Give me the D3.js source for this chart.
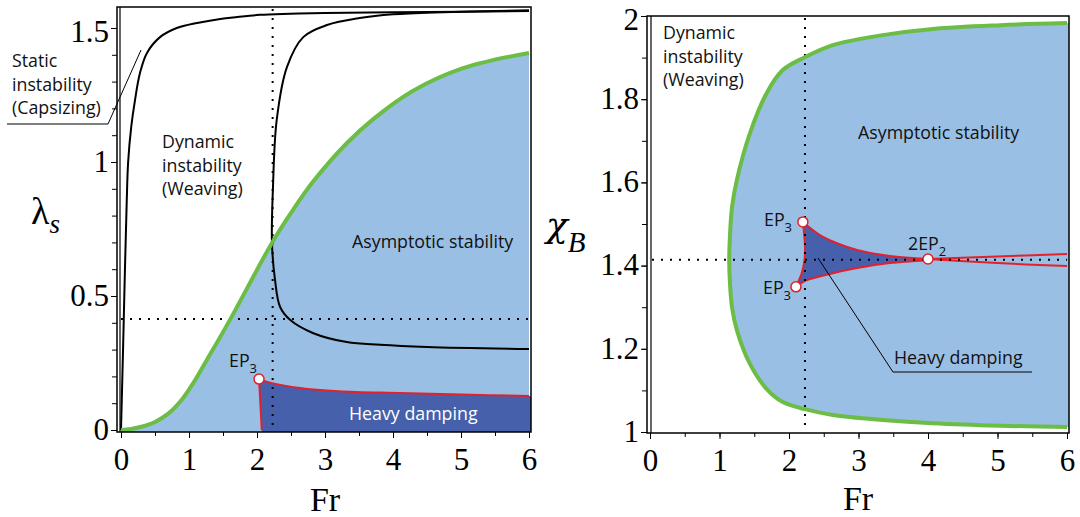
<!DOCTYPE html>
<html>
<head>
<meta charset="utf-8">
<script src="https://cdn.jsdelivr.net/npm/d3@7"></script>
<style>
  body { margin: 0; background: #fff; }
  .tick text { font-family: "Liberation Serif", "Times New Roman", serif; fill: #000; }
  .lbl { font-family: "Open Sans", "Noto Sans", sans-serif; font-size: 17.8px; fill: #111; }
</style>
</head>
<body>
<div id="chart"></div>
<script>
// ---- left panel data (Fr, lambda_s) ----
var capsizeCurve = [[0,0],[0.03,0.3],[0.06,0.62],[0.085,0.86],[0.105,1.0],[0.15,1.13],[0.206,1.231],[0.279,1.332],[0.382,1.407],[0.574,1.466],[0.82,1.5],[1.12,1.519],[1.46,1.534],[1.71,1.541],[2.04,1.549],[2.49,1.553],[3,1.556],[4,1.559],[5,1.561],[6,1.563]];
var weavingCurve = [[6,1.566],[4.74,1.559],[4.0,1.551],[3.51,1.537],[3.03,1.511],[2.68,1.466],[2.44,1.354],[2.29,1.157],[2.235,0.907],[2.22,0.698],[2.265,0.56],[2.34,0.459],[2.49,0.41],[2.82,0.362],[3.32,0.328],[3.81,0.318],[4.5,0.31],[6,0.302]];
var stabilityLeft = [[0,0],[0.15,0.004],[0.3,0.012],[0.5,0.03],[0.7,0.062],[0.9,0.115],[1.05,0.17],[1.16,0.216],[1.26,0.26],[1.6,0.41],[2.22,0.698],[2.5,0.81],[2.82,0.925],[3.32,1.07],[3.71,1.16],[4.29,1.265],[5.03,1.35],[6,1.407]];
var dampTopLeft = [[2.03,0.19],[2.22,0.175],[2.63,0.157],[3.2,0.145],[4.1,0.138],[5,0.132],[6,0.127]];
var dampEdgeLeft = [[2.07,0],[2.03,0.19]];
var ep3Left = [[2.03,0.19]];
var dotsLeft = {fr: 2.23, lam: 0.414};

// ---- right panel data (Fr, chi_B) ----
var stabilityUpper = [[1.14,1.414],[1.15,1.47],[1.18,1.54],[1.25,1.606],[1.44,1.719],[1.68,1.815],[1.91,1.87],[2.23,1.901],[2.63,1.93],[3.35,1.954],[4.07,1.969],[5.04,1.978],[6,1.983]];
var stabilityLower = [[1.14,1.414],[1.15,1.36],[1.18,1.3],[1.25,1.245],[1.44,1.163],[1.68,1.103],[1.91,1.072],[2.23,1.055],[2.63,1.041],[3.35,1.029],[4.07,1.021],[5.04,1.015],[6,1.012]];
var cuspUpper = [[2.2,1.505],[2.49,1.469],[2.98,1.4375],[3.45,1.423],[4.0,1.416]];
var cuspLower = [[2.1,1.349],[2.26,1.365],[2.59,1.38],[2.98,1.394],[3.45,1.406],[4.0,1.413]];
var cuspEdge = [[2.1,1.349],[2.18,1.38],[2.22,1.41],[2.23,1.445],[2.2,1.505]];
var tailUpper = [[4.0,1.416],[5,1.422],[6,1.428]];
var tailLower = [[4.0,1.416],[5,1.406],[6,1.399]];
var epPointsRight = [[2.2,1.505],[2.1,1.349],[4.0,1.416]];
var dotsRight = {fr: 2.23, chi: 1.414};

// ticks
var frTicks = [0,1,2,3,4,5,6];
var frMinor = d3.range(0, 6.01, 0.5);
var lamTicks = [0,0.5,1,1.5];
var lamMinor = d3.range(0, 1.51, 0.1);
var chiTicks = [1,1.2,1.4,1.6,1.8,2];
var chiMinor = d3.range(1, 2.01, 0.1);

var lightBlue = "#9abfe4", darkBlue = "#4660ac", green = "#6bbd45", red = "#e3202b";

var svg = d3.select("#chart").append("svg")
    .attr("width", 1080)
    .attr("height", 517);

// scales
var xL = d3.scaleLinear().domain([0, 6]).range([121, 529]);
var yL = d3.scaleLinear().domain([0, 1.5]).range([430, 28]);
var xR = d3.scaleLinear().domain([0, 6]).range([650, 1067]);
var yR = d3.scaleLinear().domain([1, 2]).range([432, 16]);

var defs = svg.append("defs");
defs.append("clipPath").attr("id", "clipL").append("rect")
    .attr("x", 119).attr("y", 7).attr("width", 412).attr("height", 425);
defs.append("clipPath").attr("id", "clipR").append("rect")
    .attr("x", 650).attr("y", 16).attr("width", 419).attr("height", 417);

function lineOf(xs, ys, curve) {
    return d3.line()
        .x(function(d) { return xs(d[0]); })
        .y(function(d) { return ys(d[1]); })
        .curve(curve || d3.curveCatmullRom.alpha(0.5));
}

// ================= LEFT PANEL =================
var gL = svg.append("g").attr("clip-path", "url(#clipL)");
var lineL = lineOf(xL, yL);

// asymptotic stability region (under green curve)
gL.append("path")
    .datum(stabilityLeft)
    .attr("fill", lightBlue)
    .attr("d", d3.area()
        .x(function(d) { return xL(d[0]); })
        .y0(yL(0) + 2)
        .y1(function(d) { return yL(d[1]); })
        .curve(d3.curveCatmullRom.alpha(0.5)));

// heavy damping region: left edge, red top curve, then down to the axis
var base = yL(0) + 2;
gL.append("path")
    .datum(dampTopLeft)
    .attr("fill", darkBlue)
    .attr("d", function(d) {
        return "M" + xL(dampEdgeLeft[0][0]) + "," + base +
            lineL(d).replace(/^M/, "L") +
            "L" + (xL(6) + 3) + "," + yL(d[d.length - 1][1]) +
            "L" + (xL(6) + 3) + "," + base + "Z";
    });

gL.append("path").datum(dampTopLeft)
    .attr("fill", "none").attr("stroke", red).attr("stroke-width", 2)
    .attr("d", lineL);
gL.append("path").datum(dampEdgeLeft)
    .attr("fill", "none").attr("stroke", red).attr("stroke-width", 2)
    .attr("d", lineOf(xL, yL, d3.curveLinear));

// dotted guides
gL.append("line")
    .attr("x1", xL(dotsLeft.fr)).attr("x2", xL(dotsLeft.fr))
    .attr("y1", 9).attr("y2", yL(0))
    .attr("stroke", "#000").attr("stroke-width", 2).attr("stroke-dasharray", "2,7");
gL.append("line")
    .attr("x1", xL(0)).attr("x2", xL(6))
    .attr("y1", yL(dotsLeft.lam)).attr("y2", yL(dotsLeft.lam))
    .attr("stroke", "#000").attr("stroke-width", 2).attr("stroke-dasharray", "2,7");

// black boundaries
gL.append("path").datum(capsizeCurve)
    .attr("fill", "none").attr("stroke", "#000").attr("stroke-width", 2)
    .attr("d", lineL);
gL.append("path").datum(weavingCurve)
    .attr("fill", "none").attr("stroke", "#000").attr("stroke-width", 2)
    .attr("d", lineL);

// green stability boundary
gL.append("path").datum(stabilityLeft)
    .attr("fill", "none").attr("stroke", green).attr("stroke-width", 4)
    .attr("d", lineL);

gL.selectAll("circle.ep").data(ep3Left).enter().append("circle")
    .attr("class", "ep")
    .attr("cx", function(d) { return xL(d[0]); })
    .attr("cy", function(d) { return yL(d[1]); })
    .attr("r", 5).attr("fill", "#fff").attr("stroke", red).attr("stroke-width", 1.5);

// frame + axes
svg.append("rect").attr("x", 117).attr("y", 7).attr("width", 414).attr("height", 425)
    .attr("fill", "none").attr("stroke", "#000").attr("stroke-width", 1.5);
svg.append("line").attr("x1", 120).attr("x2", 120).attr("y1", 7).attr("y2", 432)
    .attr("stroke", "#000").attr("stroke-width", 1.2);

function drawAxes(xs, ys, xMinor, xMajor, yMinor, yMajor, xAxisY, yAxisX) {
    svg.append("g").attr("transform", "translate(0," + xAxisY + ")")
        .call(d3.axisBottom(xs).tickValues(xMinor).tickSize(4).tickFormat(""))
        .call(function(g) { g.select(".domain").remove(); });
    svg.append("g").attr("transform", "translate(0," + xAxisY + ")")
        .call(d3.axisBottom(xs).tickValues(xMajor).tickSize(6).tickPadding(10).tickFormat(d3.format("~g")))
        .call(function(g) {
            g.select(".domain").remove();
            g.selectAll("text").style("font-size", "31px");
        });
    svg.append("g").attr("transform", "translate(" + yAxisX + ",0)")
        .call(d3.axisLeft(ys).tickValues(yMinor).tickSize(5).tickFormat(""))
        .call(function(g) { g.select(".domain").remove(); });
    var topVal = yMajor[yMajor.length - 1];
    svg.append("g").attr("transform", "translate(" + yAxisX + ",0)")
        .call(d3.axisLeft(ys).tickValues(yMajor).tickSize(6).tickPadding(2).tickFormat(d3.format("~g")))
        .call(function(g) {
            g.select(".domain").remove();
            // top label sits a little below its tick, like the original
            g.selectAll("text").style("font-size", "31px")
                .attr("dy", function(d) { return d === topVal ? "0.45em" : "0.3em"; });
        });
}
drawAxes(xL, yL, frMinor, frTicks, lamMinor, lamTicks, 432, 117);

// ================= RIGHT PANEL =================
var gR = svg.append("g").attr("clip-path", "url(#clipR)");
var lineR = lineOf(xR, yR);

var stabilityLoop = stabilityUpper.slice().reverse().concat(stabilityLower.slice(1));
gR.append("path").datum(stabilityLoop)
    .attr("fill", lightBlue)
    .attr("d", function(d) { return lineR(d) + "L" + (xR(6) + 4) + "," + yR(d[d.length - 1][1]) + "L" + (xR(6) + 4) + "," + yR(d[0][1]) + "Z"; });

// heavy damping cusp
var cuspPoly = cuspUpper.concat(cuspLower.slice(0, -1).reverse()).concat(cuspEdge.slice(1));
gR.append("path").datum(cuspPoly)
    .attr("fill", darkBlue)
    .attr("d", function(d) { return lineOf(xR, yR, d3.curveLinear)(d) + "Z"; });

[cuspUpper, cuspLower, cuspEdge, tailUpper, tailLower].forEach(function(s) {
    gR.append("path").datum(s)
        .attr("fill", "none").attr("stroke", red).attr("stroke-width", 2)
        .attr("d", lineR);
});

gR.append("line")
    .attr("x1", xR(dotsRight.fr)).attr("x2", xR(dotsRight.fr))
    .attr("y1", 18).attr("y2", yR(1))
    .attr("stroke", "#000").attr("stroke-width", 2).attr("stroke-dasharray", "2,7");
gR.append("line")
    .attr("x1", xR(0) + 2).attr("x2", xR(6))
    .attr("y1", yR(dotsRight.chi)).attr("y2", yR(dotsRight.chi))
    .attr("stroke", "#000").attr("stroke-width", 2).attr("stroke-dasharray", "2,7");

gR.append("path").datum(stabilityLoop)
    .attr("fill", "none").attr("stroke", green).attr("stroke-width", 4)
    .attr("d", lineR);

gR.selectAll("circle.ep").data(epPointsRight).enter().append("circle")
    .attr("class", "ep")
    .attr("cx", function(d) { return xR(d[0]); })
    .attr("cy", function(d) { return yR(d[1]); })
    .attr("r", 5).attr("fill", "#fff").attr("stroke", red).attr("stroke-width", 1.5);

svg.append("rect").attr("x", 647).attr("y", 16).attr("width", 422).attr("height", 417)
    .attr("fill", "none").attr("stroke", "#000").attr("stroke-width", 1.5);
svg.append("line").attr("x1", 651).attr("x2", 651).attr("y1", 16).attr("y2", 433)
    .attr("stroke", "#000").attr("stroke-width", 1.2);
drawAxes(xR, yR, frMinor, frTicks, chiMinor, chiTicks, 433, 647);

// ================= LABELS =================
function multi(x, y, lines, cls) {
    var t = svg.append("text").attr("class", cls || "lbl").attr("x", x).attr("y", y);
    lines.forEach(function(s, i) {
        t.append("tspan").attr("x", x).attr("dy", i === 0 ? 0 : 23.5).text(s);
    });
    return t;
}
multi(12, 67, ["Static", "instability", "(Capsizing)"]);
svg.append("polyline").attr("points", "7,124 108,124 141,50")
    .attr("fill", "none").attr("stroke", "#000").attr("stroke-width", 1);
multi(162, 148, ["Dynamic", "instability", "(Weaving)"]);
multi(352, 248, ["Asymptotic stability"]);
multi(349, 420, ["Heavy damping"]).style("fill", "#fff");

function epLabel(x, y, main, sub) {
    var t = svg.append("text").attr("class", "lbl").attr("x", x).attr("y", y).text(main);
    t.append("tspan").attr("dy", 6).style("font-size", "13px").text(sub);
}
epLabel(229, 367, "EP", "3");
epLabel(764, 226, "EP", "3");
epLabel(763, 294, "EP", "3");
epLabel(908, 250, "2EP", "2");

multi(663, 39, ["Dynamic", "instability", "(Weaving)"]);
multi(858, 139, ["Asymptotic stability"]);
multi(894, 364, ["Heavy damping"]);
svg.append("polyline").attr("points", "818,258 893,372 1032,372")
    .attr("fill", "none").attr("stroke", "#000").attr("stroke-width", 1);

// axis titles
var serif = '"Liberation Serif", "Times New Roman", serif';
svg.append("text").attr("x", 325).attr("y", 511).attr("text-anchor", "middle")
    .style("font-family", serif).style("font-size", "34px").text("Fr");
svg.append("text").attr("x", 858).attr("y", 510).attr("text-anchor", "middle")
    .style("font-family", serif).style("font-size", "34px").text("Fr");

var lam = svg.append("text").attr("x", 31).attr("y", 224)
    .style("font-family", serif).style("font-size", "38px").text("λ");
lam.append("tspan").attr("dy", 9).style("font-size", "27px").style("font-style", "italic").text("s");

var chi = svg.append("text").attr("x", 546).attr("y", 237)
    .style("font-family", '"DejaVu Serif", serif').style("font-size", "36px").style("font-style", "italic").text("χ");
chi.append("tspan").attr("dy", 15).style("font-family", serif).style("font-size", "29px").text("B");
</script>
</body>
</html>
